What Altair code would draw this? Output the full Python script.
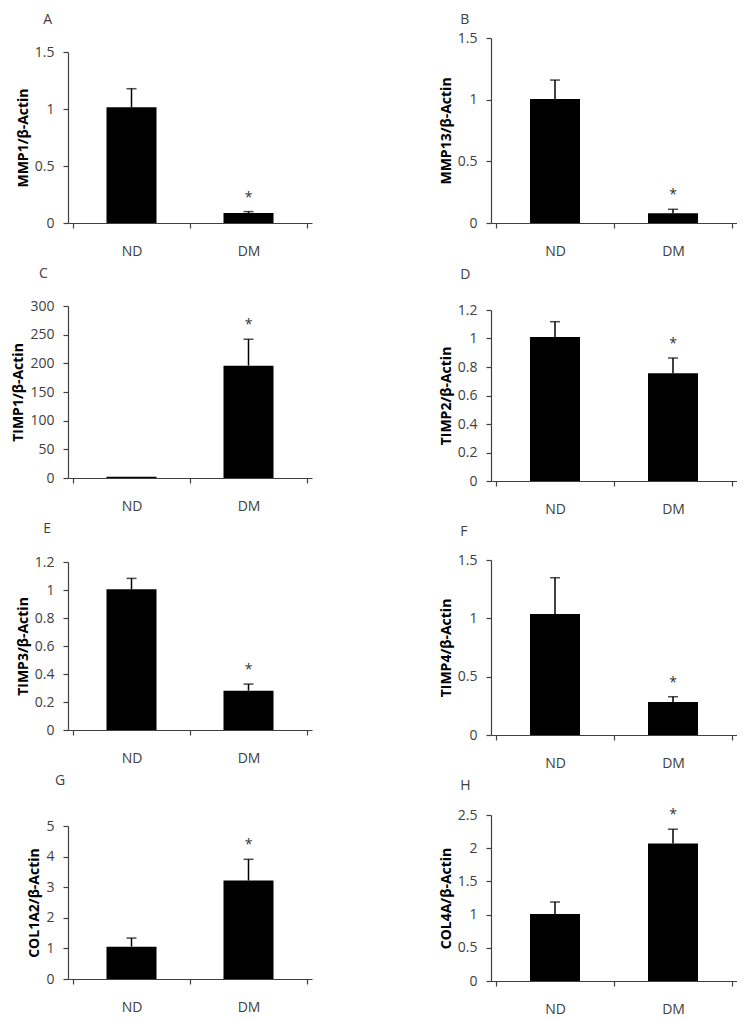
import altair as alt
import pandas as pd

letters = ["A", "B", "C", "D", "E", "F", "G", "H"]
genes = ["MMP1", "MMP13", "TIMP1", "TIMP2", "TIMP3", "TIMP4", "COL1A2", "COL4A"]
groups = ["ND", "DM"]
nd_mean = [1.015, 1.005, 2, 1.01, 1.005, 1.037, 1.058, 1.01]
nd_top = [1.178, 1.159, 2, 1.118, 1.083, 1.348, 1.338, 1.19]
dm_mean = [0.088, 0.079, 196, 0.756, 0.281, 0.282, 3.216, 2.071]
dm_top = [0.100, 0.111, 242, 0.863, 0.328, 0.328, 3.911, 2.286]
star_labels = ["", "*"]
y_max = [1.5, 1.5, 300, 1.2, 1.2, 1.5, 5, 2.5]
y_step = [0.5, 0.5, 50, 0.2, 0.2, 0.5, 1, 0.5]

# layout: plot-area sizes, blank space above the axis, title offsets
widths = [244, 246, 244, 246, 244, 246, 244, 246]
heights = [189, 189, 172, 171, 168, 175, 153, 166]
top_gap = [18, 4, 0, 0, 0, 0, 0, 0]
title_offsets = [7, 4, 18, 19, 19, 14, 31, 15]
title_dx = [27, 21, 27, 21, 27, 21, 27, 21]
FONT = "Open Sans"


def panel(i):
    W, H = widths[i], heights[i]
    df = pd.DataFrame({
        "group": groups,
        "pos": [k + 0.5 for k in range(len(groups))],
        "mean": [nd_mean[i], dm_mean[i]],
        "top": [nd_top[i], dm_top[i]],
        "star": star_labels,
    })
    n = int(round(y_max[i] / y_step[i]))
    yvals = [round(k * y_step[i], 6) for k in range(n + 1)]
    yscale = alt.Scale(domain=[0, y_max[i]], nice=False, zero=True,
                       range=[H, top_gap[i]])
    yaxis = alt.Axis(values=yvals, format="~r", title=genes[i] + "/β-Actin",
                     grid=False)
    xscale = alt.Scale(domain=[0, len(groups)], nice=False, zero=False)
    x_ticks = alt.X("pos:Q", scale=xscale,
                    axis=alt.Axis(values=list(range(len(groups) + 1)), labels=False,
                                  title=None, grid=False, orient="bottom"))
    x_labels = alt.X("pos:Q", scale=xscale,
                     axis=alt.Axis(values=[k + 0.5 for k in range(len(groups))],
                                   labelExpr="datum.value < 1 ? 'ND' : 'DM'",
                                   ticks=False, domain=False, title=None, grid=False,
                                   orient="bottom", labelPadding=21,
                                   labelOverlap=False, labelFlush=False))
    x_plain = alt.X("pos:Q", scale=xscale, axis=None)

    def yenc(field):
        return alt.Y(field + ":Q", scale=yscale, axis=yaxis)

    base = alt.Chart(df)
    bars = base.mark_bar(size=50, color="black").encode(x=x_ticks, y=yenc("mean"))
    err = base.transform_filter("datum.top > datum.mean").mark_rule(
        color="black", strokeWidth=1.5).encode(x=x_plain, y=yenc("mean"), y2="top:Q")
    cap = base.transform_filter("datum.top > datum.mean").mark_tick(
        orient="horizontal", size=10, thickness=1.5, color="black").encode(
        x=x_plain, y=yenc("top"))
    star = base.mark_text(dy=-14, fontSize=14, font=FONT, color="#333333",
                          baseline="middle").encode(
        x=x_labels, y=yenc("top"), text="star:N")
    return alt.layer(bars, err, cap, star).resolve_axis(x="independent").properties(
        width=W, height=H,
        title=alt.TitleParams(letters[i], anchor="start", dx=title_dx[i],
                              offset=title_offsets[i], fontSize=14, font=FONT,
                              fontWeight="normal", color="#404040"))


left = alt.vconcat(*[panel(k) for k in (0, 2, 4, 6)], spacing=9)
right = alt.vconcat(*[panel(k) for k in (1, 3, 5, 7)], spacing=9)
chart = alt.hconcat(left, right, spacing=127).properties(
    padding={"left": 3, "top": 5, "right": 0, "bottom": 0}
).configure_view(
    stroke=None
).configure_axis(
    labelFont=FONT, labelFontSize=14, labelColor="#404040",
    titleFont=FONT, titleFontSize=14, titleFontWeight="bold", titleColor="black",
    domainColor="#404040", tickColor="#404040", tickSize=5, domainWidth=1.2,
    tickWidth=1.2, labelPadding=9, titlePadding=4
)

chart.save("out.html", embed_options={"renderer": "svg", "actions": False})
